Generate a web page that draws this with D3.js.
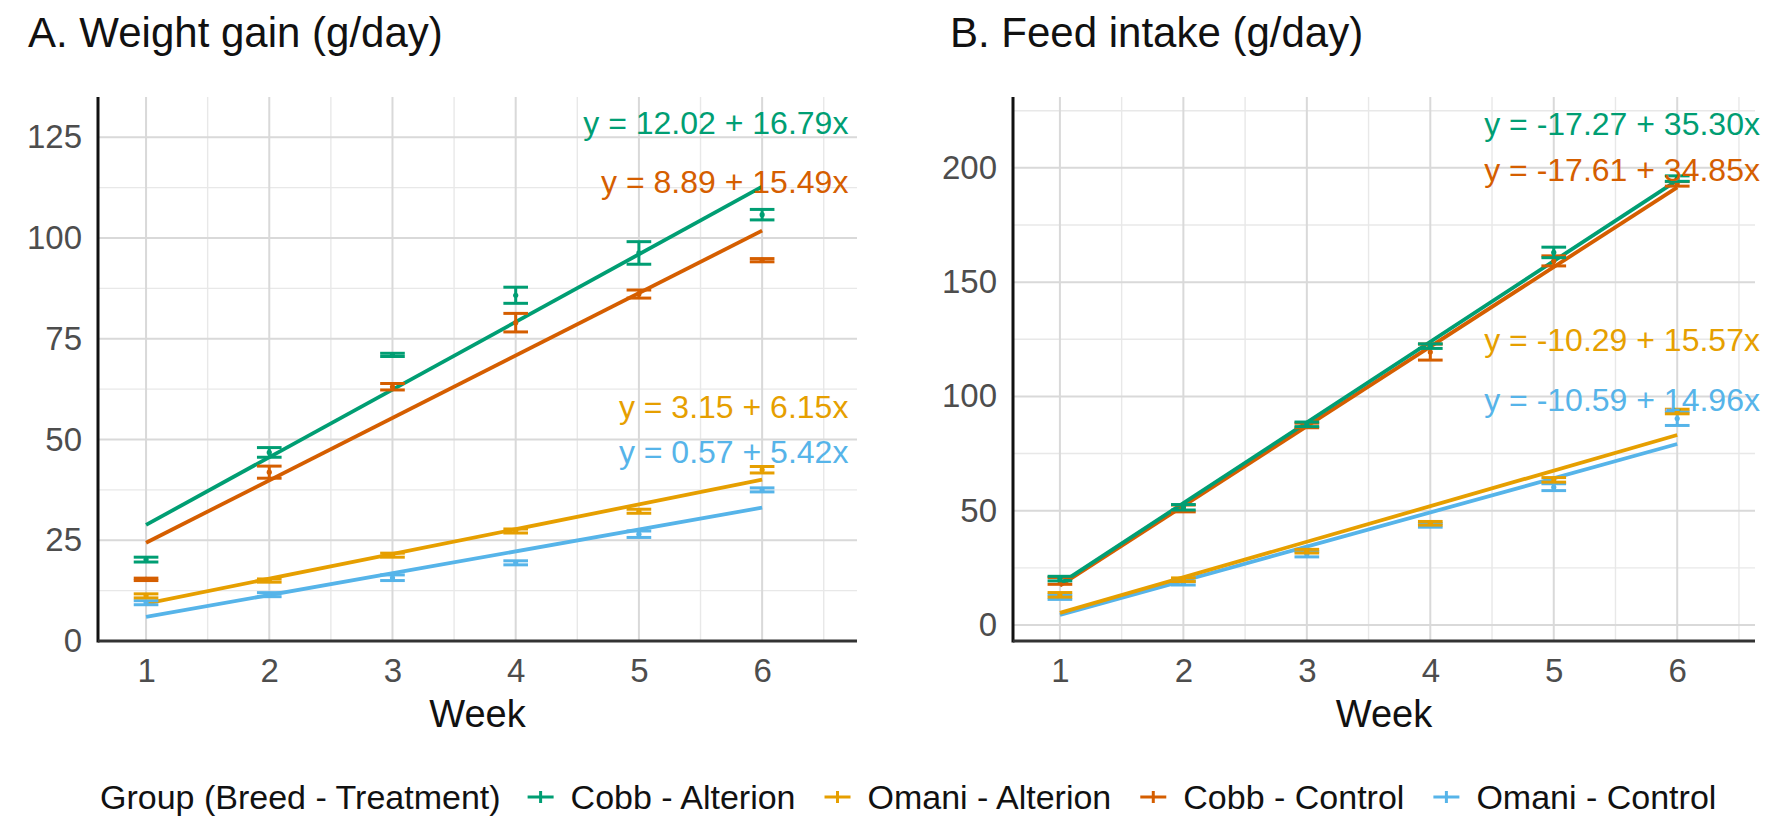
<!DOCTYPE html>
<html>
<head>
<meta charset="utf-8">
<script src="https://cdn.jsdelivr.net/npm/d3@7"></script>
<style>
  body { margin: 0; background: #fff; }
  text { font-family: "Liberation Sans", Arial, sans-serif; }
</style>
</head>
<body>
<svg id="chart" width="1784" height="829"></svg>
<script>
// groups as they appear in the legend
const groups = ["Cobb - Alterion", "Omani - Alterion", "Cobb - Control", "Omani - Control"];
const colors = ["#009E73", "#E69F00", "#D55E00", "#56B4E9"];
const weeks = [1, 2, 3, 4, 5, 6];

// A. weight gain (g/day), mean and error per group
const gainMean = [
  [20.2, 46.8, 71.0, 85.8, 96.3, 105.8],
  [11.2, 15.0, 21.3, 27.3, 32.2, 42.5],
  [15.3, 41.9, 63.1, 79.0, 86.1, 94.5],
  [9.5, 11.5, 15.7, 19.4, 26.5, 37.5]
];
const gainErr = [
  [0.6, 1.2, 0.4, 2.0, 2.8, 1.3],
  [0.5, 0.4, 0.5, 0.5, 0.5, 0.8],
  [0.3, 1.5, 0.8, 2.3, 1.0, 0.4],
  [0.5, 0.5, 0.7, 0.5, 0.8, 0.5]
];
const gainIntercept = [12.02, 3.15, 8.89, 0.57];
const gainSlope = [16.79, 6.15, 15.49, 5.42];
const gainLabelY = [128.5, 58, 114, 46.8];

// B. feed intake (g/day)
const intakeMean = [
  [20.3, 51.5, 87.8, 122.0, 163.0, 195.3],
  [13.2, 19.8, 32.3, 44.5, 63.5, 93.4],
  [19.3, 51.0, 87.3, 119.4, 159.3, 193.0],
  [12.2, 18.3, 31.0, 43.6, 60.3, 90.3]
];
const intakeErr = [
  [1.0, 1.2, 1.0, 1.0, 2.3, 1.2],
  [1.0, 0.8, 0.8, 0.8, 1.0, 1.0],
  [1.5, 1.5, 1.0, 3.5, 2.2, 1.0],
  [1.0, 0.8, 1.2, 0.8, 1.5, 3.0]
];
const intakeIntercept = [-17.27, -10.29, -17.61, -10.59];
const intakeSlope = [35.30, 15.57, 34.85, 14.96];
const intakeLabelY = [219, 124.5, 199, 98.5];

const gainTicks = [0, 25, 50, 75, 100, 125];
const gainMinor = [12.5, 37.5, 62.5, 87.5, 112.5];
const intakeTicks = [0, 50, 100, 150, 200];
const intakeMinor = [25, 75, 125, 175, 225];
const weekMinor = [1.5, 2.5, 3.5, 4.5, 5.5, 6.5];

const drawOrder = [2, 3, 1, 0];
const svg = d3.select("#chart");

const fmt = v => (v < 0 ? "-" : "") + Math.abs(v).toFixed(2);

function panel(p) {
  const x = d3.scaleLinear().domain(p.xDomain).range([p.left, p.right]);
  const y = d3.scaleLinear().domain(p.yDomain).range([p.bottom, p.top]);
  const g = svg.append("g");

  // grid
  g.selectAll(".ymin").data(p.yMinor.filter(v => v <= p.yDomain[1])).enter().append("line")
    .attr("x1", p.left).attr("x2", p.right).attr("y1", d => y(d)).attr("y2", d => y(d))
    .attr("stroke", "#e8e8e8").attr("stroke-width", 1.4);
  g.selectAll(".xmin").data(weekMinor.filter(v => v <= p.xDomain[1])).enter().append("line")
    .attr("y1", p.top).attr("y2", p.bottom).attr("x1", d => x(d)).attr("x2", d => x(d))
    .attr("stroke", "#e8e8e8").attr("stroke-width", 1.4);
  g.selectAll(".ymaj").data(p.yTicks).enter().append("line")
    .attr("x1", p.left).attr("x2", p.right).attr("y1", d => y(d)).attr("y2", d => y(d))
    .attr("stroke", "#d9d9d9").attr("stroke-width", 2);
  g.selectAll(".xmaj").data(weeks).enter().append("line")
    .attr("y1", p.top).attr("y2", p.bottom).attr("x1", d => x(d)).attr("x2", d => x(d))
    .attr("stroke", "#d9d9d9").attr("stroke-width", 2);

  // axes (labels only, lines drawn separately)
  const ya = g.append("g").attr("transform", `translate(${p.left},0)`)
    .call(d3.axisLeft(y).tickValues(p.yTicks).tickFormat(d3.format("d")).tickSize(0).tickPadding(16));
  const xa = g.append("g").attr("transform", `translate(0,${p.bottom})`)
    .call(d3.axisBottom(x).tickValues(weeks).tickFormat(d3.format("d")).tickSize(0).tickPadding(18));
  [ya, xa].forEach(a => {
    a.select(".domain").remove();
    a.selectAll("text").attr("font-size", 33).attr("fill", "#4d4d4d")
      .style("font-family", "Liberation Sans, Arial, sans-serif");
  });
  g.append("line").attr("x1", p.left).attr("x2", p.left).attr("y1", p.top).attr("y2", p.bottom + 1.5)
    .attr("stroke", "#111").attr("stroke-width", 3);
  g.append("line").attr("x1", p.left).attr("x2", p.right).attr("y1", p.bottom).attr("y2", p.bottom)
    .attr("stroke", "#333").attr("stroke-width", 3);

  // fitted lines
  const line = d3.line().x(d => x(d[0])).y(d => y(d[1]));
  drawOrder.forEach(i => {
    g.append("path")
      .attr("d", line([1, 6].map(w => [w, p.intercept[i] + p.slope[i] * w])))
      .attr("fill", "none").attr("stroke", colors[i]).attr("stroke-width", 3.8);
  });

  // error bars
  drawOrder.forEach(i => {
    const eb = g.append("g").attr("stroke", colors[i]).attr("stroke-width", 3);
    weeks.forEach((w, j) => {
      const m = p.mean[i][j], e = p.err[i][j];
      eb.append("line").attr("x1", x(w)).attr("x2", x(w)).attr("y1", y(m - e)).attr("y2", y(m + e));
      eb.append("line").attr("x1", x(w - 0.1)).attr("x2", x(w + 0.1)).attr("y1", y(m - e)).attr("y2", y(m - e));
      eb.append("line").attr("x1", x(w - 0.1)).attr("x2", x(w + 0.1)).attr("y1", y(m + e)).attr("y2", y(m + e));
    });
    g.selectAll(null).data(weeks).enter().append("circle")
      .attr("cx", d => x(d)).attr("cy", (d, j) => y(p.mean[i][j])).attr("r", 2.6)
      .attr("fill", colors[i]);
  });

  // equations
  groups.forEach((name, i) => {
    g.append("text")
      .attr("x", x(p.labelX)).attr("y", y(p.labelY[i]))
      .attr("text-anchor", "end").attr("dominant-baseline", "central")
      .attr("font-size", 32).attr("fill", colors[i])
      .text(`y = ${fmt(p.intercept[i])} + ${p.slope[i].toFixed(2)}x`);
  });

  // titles
  svg.append("text").attr("x", p.titleX).attr("y", 47).attr("font-size", 42).attr("fill", "#111")
    .text(p.title);
  svg.append("text").attr("x", (p.left + p.right) / 2).attr("y", 727).attr("text-anchor", "middle")
    .attr("font-size", 38).attr("fill", "#111").text("Week");
}

panel({
  title: "A. Weight gain (g/day)", titleX: 28,
  left: 98, right: 857, top: 97, bottom: 641,
  xDomain: [0.61, 6.77], yDomain: [0, 135],
  yTicks: gainTicks, yMinor: gainMinor,
  mean: gainMean, err: gainErr,
  intercept: gainIntercept, slope: gainSlope,
  labelX: 6.70, labelY: gainLabelY
});

panel({
  title: "B. Feed intake (g/day)", titleX: 950,
  left: 1013, right: 1755, top: 97, bottom: 641,
  xDomain: [0.62, 6.63], yDomain: [-7, 231],
  yTicks: intakeTicks, yMinor: intakeMinor,
  mean: intakeMean, err: intakeErr,
  intercept: intakeIntercept, slope: intakeSlope,
  labelX: 6.67, labelY: intakeLabelY
});

// legend
const lg = svg.append("g");
const ly = 797;
let lx = 100;
const ttl = lg.append("text").attr("x", lx).attr("y", ly).attr("dominant-baseline", "central")
  .attr("font-size", 34).attr("fill", "#111").text("Group (Breed - Treatment)");
lx += ttl.node().getComputedTextLength() + 40;
groups.forEach((name, i) => {
  const k = lg.append("g").attr("stroke", colors[i]).attr("stroke-width", 3);
  k.append("line").attr("x1", lx - 13).attr("x2", lx + 13).attr("y1", ly).attr("y2", ly);
  k.append("line").attr("x1", lx).attr("x2", lx).attr("y1", ly - 6).attr("y2", ly + 6);
  lx += 30;
  const t = lg.append("text").attr("x", lx).attr("y", ly).attr("dominant-baseline", "central")
    .attr("font-size", 34).attr("fill", "#111").text(name);
  lx += t.node().getComputedTextLength() + 42;
});
</script>
</body>
</html>
